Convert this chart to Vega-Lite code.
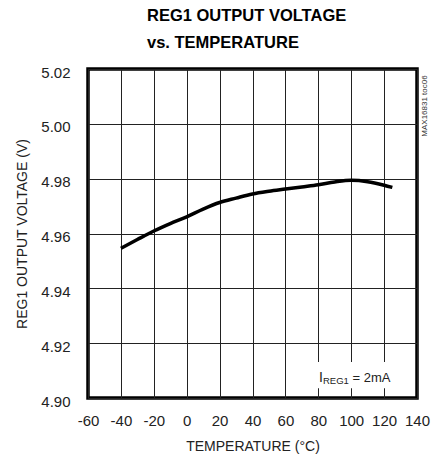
{
  "$schema": "https://vega.github.io/schema/vega-lite/v6.json",
  "autosize": {"type": "none"},
  "padding": {"left": 88, "top": 69, "right": 23, "bottom": 61},
  "width": 329,
  "height": 329,
  "background": "white",
  "config": {
    "font": "Liberation Sans",
    "view": {"stroke": "black", "strokeWidth": 3.5},
    "text": {"font": "Liberation Sans", "fontWeight": "normal"},
    "axis": {
      "labelFont": "Liberation Sans",
      "labelFontSize": 15,
      "labelColor": "#222",
      "titleFont": "Liberation Sans",
      "titleFontSize": 14,
      "titleFontWeight": "normal",
      "titleColor": "#222",
      "gridColor": "#222",
      "gridWidth": 1,
      "gridOpacity": 1,
      "ticks": false,
      "domain": false,
      "labelFlush": false,
      "labelOverlap": false,
      "labelBound": false
    }
  },
  "title": {
    "text": ["REG1 OUTPUT VOLTAGE", "vs. TEMPERATURE"],
    "anchor": "start",
    "frame": "group",
    "align": "left",
    "dx": 59,
    "font": "Liberation Sans",
    "fontSize": 16.5,
    "fontWeight": "bold",
    "lineHeight": 27,
    "color": "black",
    "offset": 14
  },
  "encoding": {
    "x": {
      "type": "quantitative",
      "scale": {"domain": [-60, 140], "nice": false, "zero": false},
      "axis": {
        "values": [-60, -40, -20, 0, 20, 40, 60, 80, 100, 120, 140],
        "labelExpr": "'' + datum.value",
        "grid": true,
        "labelPadding": 15,
        "title": "TEMPERATURE (°C)",
        "titleBaseline": "top",
        "titleY": 41
      }
    },
    "y": {
      "type": "quantitative",
      "scale": {"domain": [4.9, 5.02], "nice": false, "zero": false},
      "axis": {
        "values": [4.9, 4.92, 4.94, 4.96, 4.98, 5.0, 5.02],
        "format": ".2f",
        "grid": true,
        "labelPadding": 18,
        "labelOffset": 3,
        "title": "REG1 OUTPUT VOLTAGE (V)",
        "titleX": -66,
        "titleBaseline": "middle"
      }
    }
  },
  "datasets": {
    "curve": [
      {"temp": -40, "volt": 4.9546},
      {"temp": -30, "volt": 4.9578},
      {"temp": -20, "volt": 4.9609},
      {"temp": -10, "volt": 4.9636},
      {"temp": 0, "volt": 4.9661},
      {"temp": 10, "volt": 4.9689},
      {"temp": 20, "volt": 4.9713},
      {"temp": 30, "volt": 4.9729},
      {"temp": 40, "volt": 4.9744},
      {"temp": 50, "volt": 4.9754},
      {"temp": 60, "volt": 4.9762},
      {"temp": 70, "volt": 4.9770},
      {"temp": 80, "volt": 4.9778},
      {"temp": 90, "volt": 4.9788},
      {"temp": 100, "volt": 4.9794},
      {"temp": 110, "volt": 4.9789},
      {"temp": 120, "volt": 4.9776},
      {"temp": 125, "volt": 4.9768}
    ],
    "box": [{"t1": 76, "t2": 136, "v1": 4.9131, "v2": 4.9036}],
    "notes": [
      {"t": 80.4, "v": 4.9059, "label": "I", "part": "main"},
      {"t": 80.4, "v": 4.9059, "label": "REG1", "part": "sub"},
      {"t": 80.4, "v": 4.9059, "label": "= 2mA", "part": "rest"},
      {"t": 145, "v": 5.0065, "label": "MAX16831 toc06", "part": "side"}
    ]
  },
  "layer": [
    {
      "data": {"name": "curve"},
      "mark": {"type": "line", "color": "black", "strokeWidth": 3.5, "interpolate": "monotone"},
      "encoding": {
        "x": {"field": "temp"},
        "y": {"field": "volt"}
      }
    },
    {
      "data": {"name": "box"},
      "mark": {"type": "rect", "color": "white"},
      "encoding": {
        "x": {"field": "t1"},
        "x2": {"field": "t2"},
        "y": {"field": "v1"},
        "y2": {"field": "v2"}
      }
    },
    {
      "data": {"name": "notes"},
      "transform": [{"filter": "datum.part === 'main'"}],
      "mark": {"type": "text", "align": "left", "baseline": "alphabetic", "fontSize": 14, "color": "#222"},
      "encoding": {
        "x": {"field": "t"},
        "y": {"field": "v"},
        "text": {"field": "label"}
      }
    },
    {
      "data": {"name": "notes"},
      "transform": [{"filter": "datum.part === 'sub'"}],
      "mark": {"type": "text", "align": "left", "baseline": "alphabetic", "fontSize": 9.5, "color": "#222", "dx": 4, "dy": 2.5},
      "encoding": {
        "x": {"field": "t"},
        "y": {"field": "v"},
        "text": {"field": "label"}
      }
    },
    {
      "data": {"name": "notes"},
      "transform": [{"filter": "datum.part === 'rest'"}],
      "mark": {"type": "text", "align": "left", "baseline": "alphabetic", "fontSize": 13, "color": "#222", "dx": 33.5},
      "encoding": {
        "x": {"field": "t"},
        "y": {"field": "v"},
        "text": {"field": "label"}
      }
    },
    {
      "data": {"name": "notes"},
      "transform": [{"filter": "datum.part === 'side'"}],
      "mark": {"type": "text", "align": "center", "baseline": "middle", "fontSize": 8, "angle": 270, "color": "#333", "clip": false},
      "encoding": {
        "x": {"field": "t"},
        "y": {"field": "v"},
        "text": {"field": "label"}
      }
    }
  ]
}
